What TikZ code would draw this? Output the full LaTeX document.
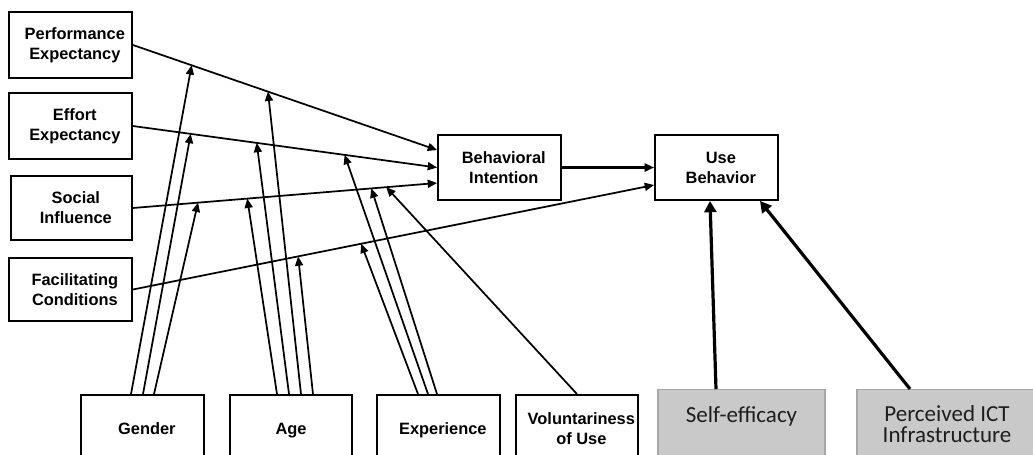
\documentclass[tikz,border=0pt]{standalone}
\usepackage{fontspec}
\setmainfont{Liberation Sans}
\newfontfamily\carlito{Carlito}
\usetikzlibrary{arrows.meta}
\newcommand\pxu{0.75pt}
\newcommand\rs{\hspace*{6.5pt}}
\newcommand\nodepth[1]{\raisebox{0pt}[\height][0pt]{#1}}
\definecolor{greyfill}{RGB}{201,201,201}
\definecolor{greyedge}{RGB}{166,166,166}
\definecolor{greytext}{RGB}{30,30,30}
\begin{document}
\begin{tikzpicture}[x=0.75pt,y=-0.75pt,
  box/.style={draw, line width=1.4pt, inner sep=0pt, align=center,
    font=\bfseries\fontsize{12.3}{15}\selectfont, minimum width=123*\pxu},
  greybox/.style={draw=greyedge, fill=greyfill, line width=0.9pt, inner xsep=0pt,
    text=greytext, font=\carlito\fontsize{17.25}{16}\selectfont},
  conn/.style={line width=1.3pt, -{Triangle[length=7pt,width=6pt]}},
  bigconn/.style={line width=2.4pt, -{Triangle[length=8.5pt,width=9pt]}}]
\useasboundingbox (0,0) rectangle (1033,454);
\clip (0,0) rectangle (1033,454);
\fill[white] (0,0) rectangle (1033,454);

% construct boxes
\node[box, minimum height=66*\pxu] (pe) at (70.5,45) {\rs Performance\\\rs Expectancy};
\node[box, minimum height=66*\pxu] (ee) at (70.5,126) {\rs Effort\\\rs Expectancy};
\node[box, minimum width=121*\pxu, minimum height=64*\pxu] (si) at (71.5,208) {\rs Social\\\rs Influence};
\node[box, minimum height=63*\pxu] (fc) at (70.5,289.5) {\rs Facilitating\\\rs Conditions};
\node[box, minimum height=65*\pxu] (bi) at (499.5,167.5) {\rs Behavioral\\\rs Intention};
\node[box, minimum height=65*\pxu] (ub) at (716.5,167.5) {\rs Use\\\rs Behavior};

% moderator boxes
\node[box, minimum height=68*\pxu] (gender) at (142.5,429) {\rs Gender};
\node[box, minimum width=122*\pxu, minimum height=68*\pxu] (age) at (291,429) {\nodepth{Age}};
\node[box, minimum height=68*\pxu] (exp) at (438.5,429) {\rs\nodepth{Experience}};
\node[box, minimum width=122*\pxu, minimum height=68*\pxu] (vol) at (577,429) {\rs Voluntariness\\\rs of Use};

% added grey boxes
\node[greybox, anchor=north, minimum width=167*\pxu, inner ysep=0pt,
  text height=33*\pxu, text depth=45*\pxu] (se) at (741.5,389) {Self-efficacy};
\node[greybox, anchor=north, minimum width=180*\pxu, minimum height=69.4*\pxu,
  inner ysep=0pt, align=center] (ict) at (947,389) {Perceived ICT\\Infrastructure};

% main connectors
\draw[conn] (pe.east) -- ([yshift=17.5*\pxu]bi.west)
  coordinate[pos=0.193] (peG) coordinate[pos=0.444] (peA);
\draw[conn] (ee.east) -- (bi.west)
  coordinate[pos=0.19] (eeG) coordinate[pos=0.407] (eeA) coordinate[pos=0.696] (eeE);
\draw[conn] (si.east) -- ([yshift=-15.5*\pxu]bi.west)
  coordinate[pos=0.214] (siG) coordinate[pos=0.376] (siA)
  coordinate[pos=0.784] (siE) coordinate[pos=0.833] (siV);
\draw[conn] (fc.east) -- ([yshift=-17.5*\pxu]ub.west)
  coordinate[pos=0.317] (fcA) coordinate[pos=0.438] (fcE);
\draw[conn, line width=1.7pt] (bi.east) -- (ub.west);

% gender
\draw[conn] ([xshift=-11.5*\pxu]gender.north) -- (peG);
\draw[conn] ([xshift=0.5*\pxu]gender.north) -- (eeG);
\draw[conn] ([xshift=11.5*\pxu]gender.north) -- (siG);
% age
\draw[conn] ([xshift=-14*\pxu]age.north) -- (siA);
\draw[conn] ([xshift=-2*\pxu]age.north) -- (eeA);
\draw[conn] ([xshift=10*\pxu]age.north) -- (peA);
\draw[conn] ([xshift=22*\pxu]age.north) -- (fcA);
% experience
\draw[conn] ([xshift=-20.5*\pxu]exp.north) -- (fcE);
\draw[conn] ([xshift=-10.5*\pxu]exp.north) -- (eeE);
\draw[conn] ([xshift=-1.5*\pxu]exp.north) -- (siE);
% voluntariness
\draw[conn] (vol.north) -- (siV);

% self-efficacy and ICT
\draw[bigconn] ([xshift=-25.5*\pxu]se.north) -- ([xshift=-6.5*\pxu]ub.south);
\draw[bigconn] ([xshift=-37*\pxu]ict.north) -- ([xshift=43.5*\pxu]ub.south);
\end{tikzpicture}
\end{document}
